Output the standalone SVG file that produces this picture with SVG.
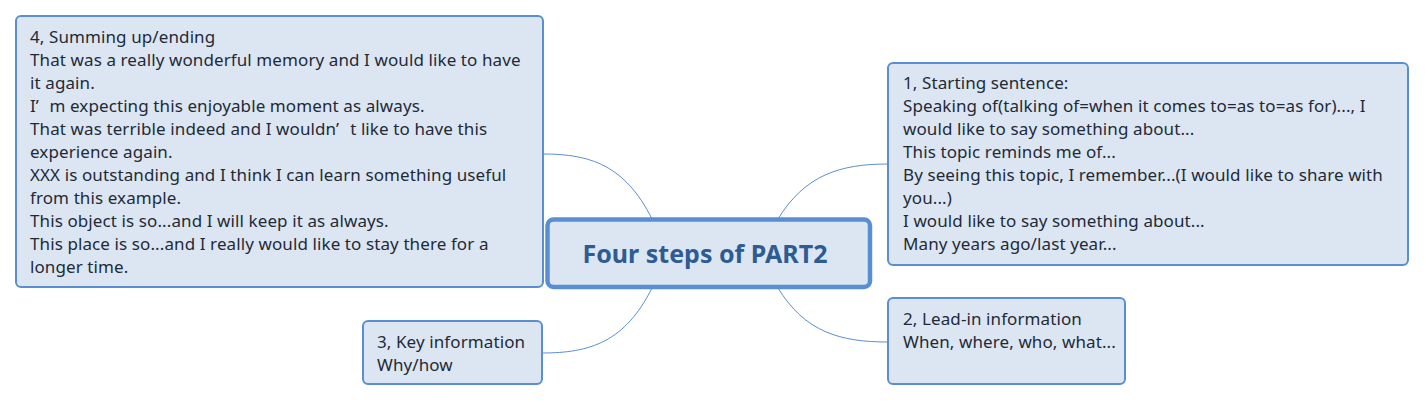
<svg xmlns="http://www.w3.org/2000/svg" width="1425" height="402" viewBox="0 0 1425 402">
<style>
.box{fill:#dce6f2;stroke:#5a8ed2;stroke-width:2}
.main{fill:#dce6f2;stroke:#5a8ed2;stroke-width:4.5}
.t{font-family:"Noto Sans","Open Sans",sans-serif;font-size:17px;letter-spacing:0.1px;fill:#1e2a38}
.title{font-family:"Noto Sans","Open Sans",sans-serif;font-size:25px;font-weight:bold;fill:#2f5b93}
.c{fill:none;stroke:#5a8ed2;stroke-width:1}
</style>
<rect width="1425" height="402" fill="#ffffff"/>
<g id="connectors">
<path class="c" d="M652 219 C625 165 590 154 543 154"/>
<path class="c" d="M652 288 C625 342 590 353 542 353"/>
<path class="c" d="M778 219 C805 175 840 164 888 164"/>
<path class="c" d="M778 288 C805 332 840 342 888 342"/>
</g>
<g id="node-center">
<rect class="main" x="547.5" y="219.5" width="322.5" height="67.5" rx="6"/>
<text class="title" x="705" y="263" text-anchor="middle">Four steps of PART2</text>
</g>
<g id="node-4">
<rect class="box" x="16" y="16" width="527" height="271" rx="5"/>
<text class="t">
<tspan x="30" y="43">4, Summing up/ending</tspan>
<tspan x="30" y="66">That was a really wonderful memory and I would like to have</tspan>
<tspan x="30" y="89">it again.</tspan>
<tspan x="30" y="112">I’<tspan dx="11">m expecting this enjoyable moment as always.</tspan></tspan>
<tspan x="30" y="135">That was terrible indeed and I wouldn’<tspan dx="11">t like to have this</tspan></tspan>
<tspan x="30" y="158">experience again.</tspan>
<tspan x="30" y="181">XXX is outstanding and I think I can learn something useful</tspan>
<tspan x="30" y="204">from this example.</tspan>
<tspan x="30" y="227">This object is so...and I will keep it as always.</tspan>
<tspan x="30" y="250">This place is so...and I really would like to stay there for a</tspan>
<tspan x="30" y="273">longer time.</tspan>
</text>
</g>
<g id="node-1">
<rect class="box" x="888" y="63" width="520" height="202" rx="5"/>
<text class="t">
<tspan x="903" y="89">1, Starting sentence:</tspan>
<tspan x="903" y="112">Speaking of(talking of=when it comes to=as to=as for)..., I</tspan>
<tspan x="903" y="135">would like to say something about...</tspan>
<tspan x="903" y="158">This topic reminds me of...</tspan>
<tspan x="903" y="181">By seeing this topic, I remember...(I would like to share with</tspan>
<tspan x="903" y="204">you...)</tspan>
<tspan x="903" y="227">I would like to say something about...</tspan>
<tspan x="903" y="250">Many years ago/last year...</tspan>
</text>
</g>
<g id="node-2">
<rect class="box" x="888" y="298" width="237" height="86" rx="5"/>
<text class="t">
<tspan x="903" y="325">2, Lead-in information</tspan>
<tspan x="903" y="348">When, where, who, what...</tspan>
</text>
</g>
<g id="node-3">
<rect class="box" x="363" y="321" width="179" height="63" rx="5"/>
<text class="t">
<tspan x="377" y="348">3, Key information</tspan>
<tspan x="377" y="371">Why/how</tspan>
</text>
</g>
</svg>
